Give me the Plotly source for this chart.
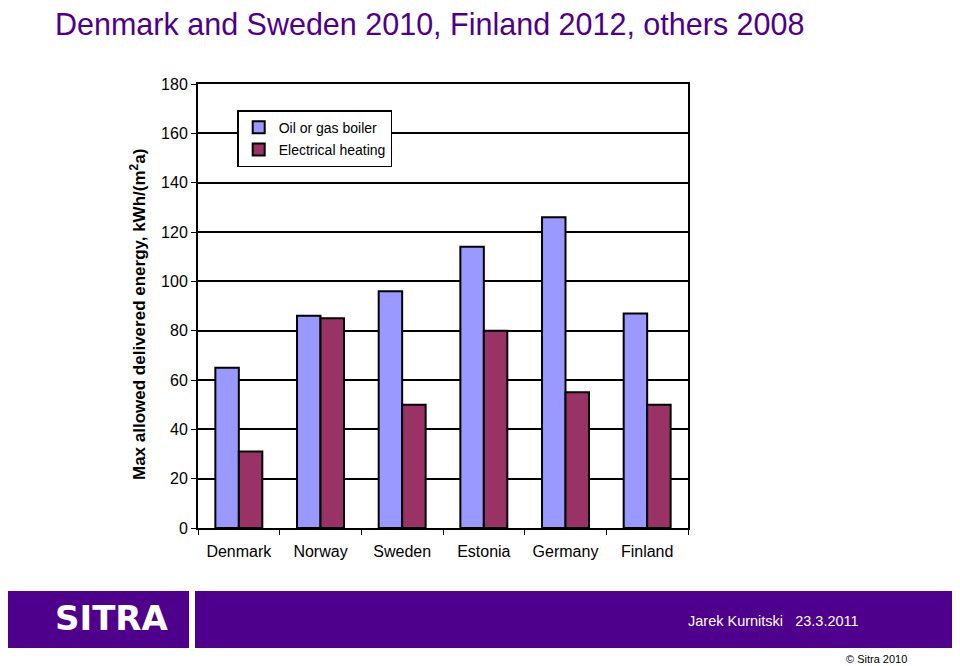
import plotly.graph_objects as go

countries = ["Denmark", "Norway", "Sweden", "Estonia", "Germany", "Finland"]
oil_gas = [65, 86, 96, 114, 126, 87]
electric = [31, 85, 50, 80, 55, 50]
y_ticks = [0, 20, 40, 60, 80, 100, 120, 140, 160, 180]

FONT = "Liberation Sans, Arial, sans-serif"
PURPLE = "#4E008C"

# page has an 8px body margin, so the figure is drawn 8px smaller and shifted
W, H = 952, 658

fig = go.Figure()
fig.add_trace(go.Bar(x=countries, y=oil_gas, name="Oil or gas boiler", legendgroup="a",
                     marker=dict(color="#9999FF", line=dict(color="black", width=2))))
fig.add_trace(go.Bar(x=countries, y=electric, name="Electrical heating", legendgroup="b",
                     marker=dict(color="#993366", line=dict(color="black", width=2))))

fig.update_layout(
    width=W, height=H,
    margin=dict(l=190, r=272, t=76, b=138),
    paper_bgcolor="white", plot_bgcolor="white",
    font=dict(family=FONT, size=16, color="black"),
    barmode="group", bargap=0.425, bargroupgap=0,
    title=dict(text="Denmark and Sweden 2010, Finland 2012, others 2008",
               x=(55 - 8) / W, xanchor="left", y=1 - 6 / H, yanchor="top",
               pad=dict(t=0, b=0, l=0, r=0),
               font=dict(family=FONT, size=30.5, color=PURPLE)),
    legend=dict(x=0.08, y=0.941, xanchor="left", yanchor="top",
                bgcolor="white", bordercolor="black", borderwidth=1.5,
                font=dict(size=14), tracegroupgap=1, itemwidth=30,
                traceorder="grouped"),
    showlegend=True,
)
fig.update_xaxes(showline=True, linecolor="black", linewidth=2, mirror=True,
                 ticks="outside", tickson="boundaries", ticklen=5, tickcolor="black",
                 tickfont=dict(size=16), ticklabelstandoff=8)
fig.update_yaxes(range=[0, 180], tickvals=y_ticks, showgrid=True,
                 gridcolor="black", gridwidth=2, zeroline=False,
                 showline=True, linecolor="black", linewidth=2, mirror=True,
                 ticks="outside", ticklen=5, tickcolor="black", tickfont=dict(size=16))

# y axis title
fig.add_annotation(text="Max allowed delivered energy, kWh/(m<sup>2</sup>a)",
                   xref="paper", yref="paper", x=(138 - 198) / 490, y=(528 - 315) / 444,
                   xanchor="center", yanchor="middle", textangle=-90, showarrow=False,
                   font=dict(family=FONT, size=17, color="black", weight="bold"))

# footer band
fig.add_shape(type="rect", xref="paper", yref="paper",
              x0=(5 - 198) / 490, x1=(189 - 198) / 490,
              y0=(528 - 648) / 444, y1=(528 - 591) / 444,
              fillcolor=PURPLE, line=dict(width=0))
fig.add_shape(type="rect", xref="paper", yref="paper",
              x0=(195 - 198) / 490, x1=(956 - 198) / 490,
              y0=(528 - 648) / 444, y1=(528 - 591) / 444,
              fillcolor=PURPLE, line=dict(width=0))
fig.add_annotation(text="<b>SITRA</b>", xref="paper", yref="paper",
                   x=(112 - 198) / 490, y=(528 - 618) / 444, showarrow=False,
                   xanchor="center", yanchor="middle",
                   font=dict(family="DejaVu Sans, sans-serif", size=34, color="white"))
fig.add_annotation(text="Jarek Kurnitski&nbsp;&nbsp;&nbsp;23.3.2011", xref="paper", yref="paper",
                   x=(773 - 198) / 490, y=(528 - 621) / 444, showarrow=False,
                   xanchor="center", yanchor="middle",
                   font=dict(family=FONT, size=14.5, color="white"))
fig.add_annotation(text="© Sitra 2010", xref="paper", yref="paper",
                   x=(876 - 198) / 490, y=(528 - 659) / 444, showarrow=False,
                   xanchor="center", yanchor="middle",
                   font=dict(family=FONT, size=11, color="black"))

fig.write_html("out.html")
